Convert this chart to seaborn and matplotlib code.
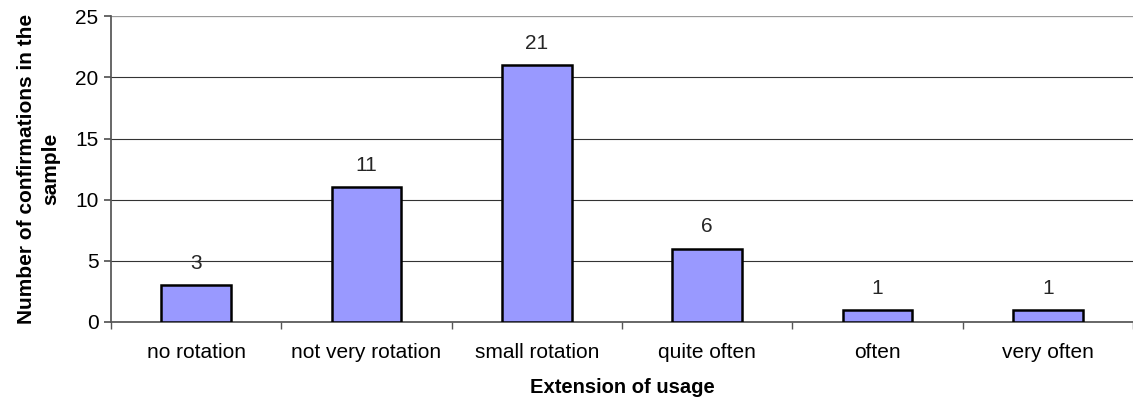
import pandas as pd
import seaborn as sns
import matplotlib.pyplot as plt

categories = ['no rotation', 'not very rotation', 'small rotation', 'quite often', 'often', 'very often']
counts = [3, 11, 21, 6, 1, 1]

sns.set_theme(style='white')
plt.rcParams['font.family'] = ['Liberation Sans', 'DejaVu Sans']

da = pd.DataFrame({'usage': categories, 'count': counts})

fig = plt.figure(figsize=(11.33, 4.05), dpi=100)
ax = fig.add_axes([0.098, 0.205, 0.902, 0.755])
sns.barplot(data=da, x='usage', y='count', color='#9999FF', width=0.41,
            edgecolor='black', linewidth=1.8, saturation=1, ax=ax, zorder=3)

ax.set_ylim(0, 25)
ax.set_yticks(range(0, 26, 5))
ax.set_xlim(-0.5, 5.5)
ax.yaxis.grid(True, color='#333333', linewidth=0.8, zorder=0)
ax.set_axisbelow(True)
for s in ['top', 'right']:
    ax.spines[s].set_visible(False)
ax.spines['left'].set_color('#555555')
ax.spines['bottom'].set_color('#555555')
ax.axhline(25, color='#999999', linewidth=1.5, zorder=1)

# category separator ticks
ax.set_xticks(range(6))
ax.set_xticklabels(categories, fontsize=15, color='black')
ax.set_xticks([i + 0.5 for i in range(-1, 6)], minor=True)
ax.tick_params(axis='x', which='major', length=0, pad=15)
ax.tick_params(axis='x', which='minor', length=5, color='#555555', direction='out', bottom=True)
ax.tick_params(axis='y', length=5, color='#555555', direction='out', labelsize=15,
               labelcolor='black', left=True, pad=4)

for i, v in enumerate(counts):
    ax.text(i, v + 1.0, str(v), ha='center', va='bottom', fontsize=15)

ax.set_xlabel('Extension of usage', fontsize=14.5, fontweight='bold', labelpad=12, color='black')
ax.set_ylabel('Number of confirmations in the\nsample', fontsize=15, fontweight='bold',
              labelpad=11, color='black', linespacing=1.3)

fig.savefig('out.png', dpi=100)
